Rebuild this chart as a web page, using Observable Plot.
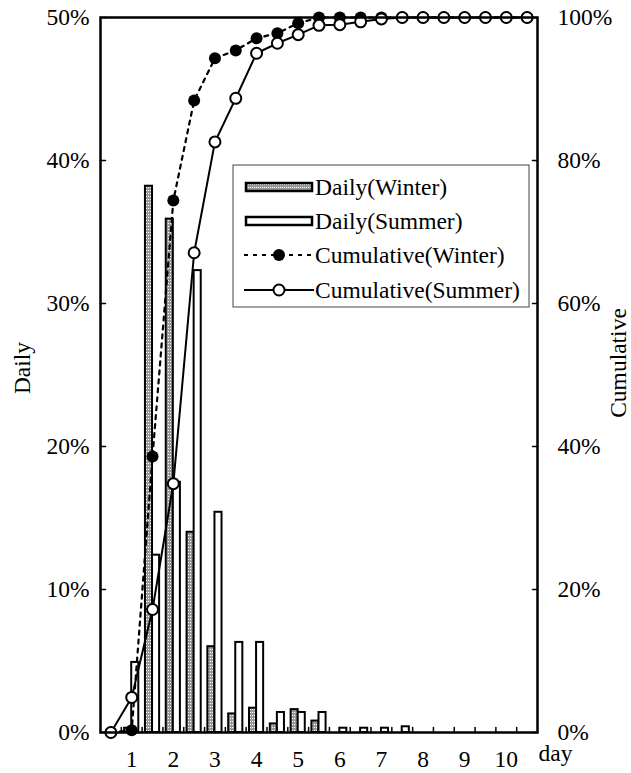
<!DOCTYPE html>
<html><head><meta charset="utf-8">
<script src="https://cdn.jsdelivr.net/npm/d3@7"></script>
<script src="https://cdn.jsdelivr.net/npm/@observablehq/plot@0.6"></script>
<style>body{margin:0;background:#fff}</style>
</head><body><div id="chart"></div>
<script>
const days        = [0.5, 1, 1.5, 2, 2.5, 3, 3.5, 4, 4.5, 5, 5.5, 6, 6.5, 7, 7.5, 8, 8.5, 9, 9.5, 10, 10.5];
const dailyWinter = [0, 0.3, 38.2, 35.9, 14.0, 6.0, 1.3, 1.7, 0.6, 1.6, 0.8, 0, 0, 0, 0, 0, 0, 0, 0, 0, 0];
const dailySummer = [0, 4.9, 12.4, 17.5, 32.3, 15.4, 6.3, 6.3, 1.4, 1.4, 1.4, 0.3, 0.3, 0.3, 0.4, 0, 0, 0, 0, 0, 0];
const cumWinter   = [0, 0.3, 38.6, 74.4, 88.4, 94.3, 95.4, 97.1, 97.8, 99.2, 100, 100, 100, 100, 100, 100, 100, 100, 100, 100, 100];
const cumSummer   = [0, 4.9, 17.2, 34.8, 67.1, 82.6, 88.7, 95.0, 96.4, 97.6, 98.9, 99.0, 99.4, 99.8, 100, 100, 100, 100, 100, 100, 100];
const dayLabels   = [1, 2, 3, 4, 5, 6, 7, 8, 9, 10];
const minorTicks  = [0.75, 1.25, 1.75, 2.25, 2.75, 3.25, 3.75, 4.25, 4.75, 5.25, 5.75, 6.25, 6.75, 7.25, 7.75, 8.25, 8.75, 9.25, 9.75, 10.25];
const leftTicks   = [0, 10, 20, 30, 40, 50];
const xDomain     = [0.25, 10.75];
const legendItems = ["Daily(Winter)", "Daily(Summer)", "Cumulative(Winter)", "Cumulative(Summer)"];

const FONT = "'Liberation Serif', 'Times New Roman', serif";
const rows = days.map((d, i) => ({day: d, winter: dailyWinter[i], summer: dailySummer[i], cw: cumWinter[i] / 2, cs: cumSummer[i] / 2}));
const tickShape = {draw(ctx, l) { ctx.moveTo(0, 0); ctx.lineTo(0, -l); }};

const plot = Plot.plot({
  width: 631, height: 773,
  marginLeft: 100, marginRight: 94, marginTop: 17, marginBottom: 41,
  style: {fontFamily: FONT, fontSize: "23.5px", background: "white", color: "black"},
  x: {domain: xDomain},
  y: {domain: [0, 50]},
  marks: [
    Plot.rect(rows.filter(d => d.winter > 0), {x1: d => d.day - 0.17, x2: "day", y1: 0, y2: "winter", fill: "url(#dots)", stroke: "black", strokeWidth: 2}),
    Plot.rect(rows.filter(d => d.summer > 0), {x1: "day", x2: d => d.day + 0.17, y1: 0, y2: "summer", fill: "white", stroke: "black", strokeWidth: 2}),
    Plot.line(rows, {x: "day", y: "cw", stroke: "black", strokeWidth: 2.2, strokeDasharray: "4,5"}),
    Plot.dot(rows, {x: "day", y: "cw", r: 6, fill: "black"}),
    Plot.line(rows, {x: "day", y: "cs", stroke: "black", strokeWidth: 2}),
    Plot.dot(rows, {x: "day", y: "cs", r: 5.5, fill: "white", stroke: "black", strokeWidth: 2}),
    Plot.frame({stroke: "black", strokeWidth: 2.5}),
    Plot.vector(minorTicks, {x: d => d, y: 0, length: 5, rotate: 0, anchor: "start", shape: tickShape, stroke: "black", strokeWidth: 1.5}),
    Plot.vector(leftTicks, {x: xDomain[0], y: d => d, length: 5, rotate: 90, anchor: "start", shape: tickShape, stroke: "black", strokeWidth: 1.5}),
    Plot.vector(leftTicks, {x: xDomain[1], y: d => d, length: 5, rotate: -90, anchor: "start", shape: tickShape, stroke: "black", strokeWidth: 1.5}),
    Plot.axisY(leftTicks, {anchor: "left", tickSize: 0, tickPadding: 11, tickFormat: d => d + "%", label: null}),
    Plot.axisY(leftTicks, {anchor: "right", tickSize: 0, tickPadding: 20, tickFormat: d => (d * 2) + "%", label: null}),
    Plot.axisX(dayLabels, {anchor: "bottom", tickSize: 0, tickPadding: 18, label: null}),
    Plot.text(["Daily"], {text: d => d, frameAnchor: "left", textAnchor: "middle", dx: -78, dy: -7, rotate: -90}),
    Plot.text(["Cumulative"], {text: d => d, frameAnchor: "right", textAnchor: "middle", dx: 81, dy: -12, rotate: -90}),
    Plot.text(["day"], {text: d => d, frameAnchor: "bottom-right", textAnchor: "middle", dx: 18, dy: 28})
  ]
});

const svg = d3.select(plot);
const defs = svg.insert("defs", ":first-child");
const pat = defs.append("pattern").attr("id", "dots").attr("patternUnits", "userSpaceOnUse").attr("width", 2).attr("height", 3);
pat.append("rect").attr("width", 2).attr("height", 3).attr("fill", "#9a9a9a");
pat.append("rect").attr("x", 0).attr("y", 1).attr("width", 1).attr("height", 1).attr("fill", "#ffffff");

const lg = svg.append("g").attr("font-family", FONT).attr("font-size", 23.5).attr("text-anchor", "start");
lg.append("rect").attr("x", 233).attr("y", 165).attr("width", 296).attr("height", 142).attr("fill", "white").attr("stroke", "#444").attr("stroke-width", 1);
const rowsY = [187, 221, 255, 290];
lg.append("rect").attr("x", 246).attr("y", rowsY[0] - 4).attr("width", 66).attr("height", 8).attr("fill", "url(#dots)").attr("stroke", "black").attr("stroke-width", 2.5);
lg.append("rect").attr("x", 246).attr("y", rowsY[1] - 4).attr("width", 66).attr("height", 8).attr("fill", "white").attr("stroke", "black").attr("stroke-width", 2.5);
lg.append("line").attr("x1", 244).attr("x2", 314).attr("y1", rowsY[2]).attr("y2", rowsY[2]).attr("stroke", "black").attr("stroke-width", 2.2).attr("stroke-dasharray", "4,5");
lg.append("circle").attr("cx", 279).attr("cy", rowsY[2]).attr("r", 6).attr("fill", "black");
lg.append("line").attr("x1", 244).attr("x2", 314).attr("y1", rowsY[3]).attr("y2", rowsY[3]).attr("stroke", "black").attr("stroke-width", 2);
lg.append("circle").attr("cx", 279).attr("cy", rowsY[3]).attr("r", 5.5).attr("fill", "white").attr("stroke", "black").attr("stroke-width", 2);
legendItems.forEach((t, i) => {
  lg.append("text").attr("x", 315).attr("y", rowsY[i]).attr("dy", "0.35em").attr("fill", "black").attr("text-anchor", "start").text(t);
});

document.getElementById("chart").appendChild(plot);
</script>
</body></html>
